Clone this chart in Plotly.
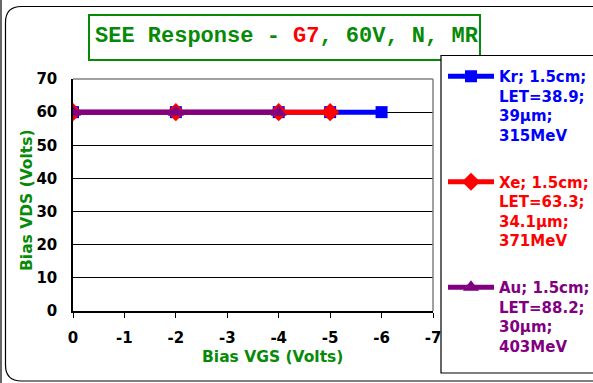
import plotly.graph_objects as go

# ---- data ----
vgs_kr = [0, -2, -4, -5, -6]
vds_kr = [60, 60, 60, 60, 60]
vgs_xe = [0, -2, -4, -5]
vds_xe = [60, 60, 60, 60]
vgs_au = [0, -2, -4]
vds_au = [60, 60, 60]

names = [
    "Kr; 1.5cm;<br>LET=38.9;<br>39µm;<br>315MeV",
    "Xe; 1.5cm;<br>LET=63.3;<br>34.1µm;<br>371MeV",
    "Au; 1.5cm;<br>LET=88.2;<br>30µm;<br>403MeV",
]
colors = ["#0000FF", "#FF0000", "#800080"]
symbols = ["square", "diamond", "triangle-up"]
msizes = [12, 14, 14]

x_ticks = [0, -1, -2, -3, -4, -5, -6, -7]
y_ticks = [0, 10, 20, 30, 40, 50, 60, 70]

title_html = "SEE Response - <span style='color:#FF0000'>G7</span>, 60V, N, MR"
x_title = "Bias VGS (Volts)"
y_title = "Bias VDS (Volts)"

# ---- layout geometry (pixels) ----
W, H = 593, 383
L, R, T, B = 73, 433, 79, 311
GREEN = "#078A07"
FONT = "DejaVu Sans"


def px(xp):
    return (xp - L) / (R - L)


def py(yp):
    return (B - yp) / (B - T)


fig = go.Figure()
series = [(vgs_kr, vds_kr), (vgs_xe, vds_xe), (vgs_au, vds_au)]
for i, (xs, ys) in enumerate(series):
    fig.add_trace(go.Scatter(
        x=xs, y=ys, mode="lines+markers",
        name=f"<span style='color:{colors[i]}'>{names[i]}</span>",
        legendgroup=f"g{i}",
        line=dict(color=colors[i], width=5),
        marker=dict(symbol=symbols[i], size=msizes[i], color=colors[i],
                    line=dict(width=0)),
    ))

shapes = []
# outer rounded frame
r = 16
x0, y0, x1, y1 = 5.5, 6.5, 606, 381
path = (f"M {px(x0)},{py(y0 + r)} L {px(x0)},{py(y1 - r)} "
        f"Q {px(x0)},{py(y1)} {px(x0 + r)},{py(y1)} L {px(x1)},{py(y1)} "
        f"L {px(x1)},{py(y0)} L {px(x0 + r)},{py(y0)} "
        f"Q {px(x0)},{py(y0)} {px(x0)},{py(y0 + r)} Z")
shapes.append(dict(type="path", xref="paper", yref="paper", path=path,
                   line=dict(color="black", width=1.2), layer="below"))
# double line at very left
shapes.append(dict(type="line", xref="paper", yref="paper",
                   x0=px(1), x1=px(1), y0=py(0), y1=py(383),
                   line=dict(color="black", width=1.2)))
# plot frame top and right (gray)
shapes.append(dict(type="line", xref="paper", yref="paper", x0=0, x1=1, y0=1, y1=1,
                   line=dict(color="#808080", width=1.5)))
shapes.append(dict(type="line", xref="paper", yref="paper", x0=1, x1=1, y0=0, y1=1,
                   line=dict(color="#808080", width=1.5)))
# title box
shapes.append(dict(type="rect", xref="paper", yref="paper",
                   x0=px(89), x1=px(480), y0=py(60), y1=py(15),
                   line=dict(color=GREEN, width=2), fillcolor="white"))
# legend box
shapes.append(dict(type="rect", xref="paper", yref="paper",
                   x0=px(441), x1=px(600), y0=py(373), y1=py(55.5),
                   line=dict(color="black", width=1.2), fillcolor="white"))

annotations = [
    dict(text=title_html, xref="paper", yref="paper", x=px(286.5), y=py(36),
         xanchor="center", yanchor="middle", showarrow=False,
         font=dict(family="Liberation Mono", size=22, color=GREEN, weight="bold")),
    dict(text=x_title, xref="paper", yref="paper", x=px(272), y=py(357),
         xanchor="center", yanchor="middle", showarrow=False,
         font=dict(family=FONT, size=15.5, color=GREEN, weight="bold")),
    dict(text=y_title, xref="paper", yref="paper", x=px(27), y=py(200),
         xanchor="center", yanchor="middle", showarrow=False, textangle=-90,
         font=dict(family=FONT, size=15.5, color=GREEN, weight="bold")),
]

fig.update_layout(
    width=W, height=H,
    margin=dict(l=L, r=W - R, t=T, b=H - B, pad=0, autoexpand=False),
    paper_bgcolor="white", plot_bgcolor="white",
    showlegend=True,
    legend=dict(xref="paper", yref="paper",
                x=px(443), y=py(60), xanchor="left", yanchor="top",
                bgcolor="rgba(0,0,0,0)", borderwidth=0,
                valign="top", itemwidth=46, tracegroupgap=24.5, maxheight=380,
                font=dict(family=FONT, size=15, weight="bold"),
                itemclick=False, itemdoubleclick=False),
    xaxis=dict(range=[0, -7], tickvals=x_ticks, ticktext=[str(v) for v in x_ticks],
               showgrid=False, zeroline=False, showline=True, linecolor="black",
               linewidth=1.5, ticks="outside", ticklen=5, tickcolor="black",
               ticklabelstandoff=7,
               tickfont=dict(family=FONT, size=15, color="black", weight="bold")),
    yaxis=dict(range=[0, 70], tickvals=y_ticks, showgrid=True, gridcolor="black",
               gridwidth=1, zeroline=False, showline=True, linecolor="black",
               linewidth=1.5, ticks="", ticklabelstandoff=11,
               tickfont=dict(family=FONT, size=15, color="black", weight="bold")),
    shapes=shapes,
    annotations=annotations,
)

fig.write_html("out.html", config={"displayModeBar": False},
               post_script="document.body.style.margin='0';")
